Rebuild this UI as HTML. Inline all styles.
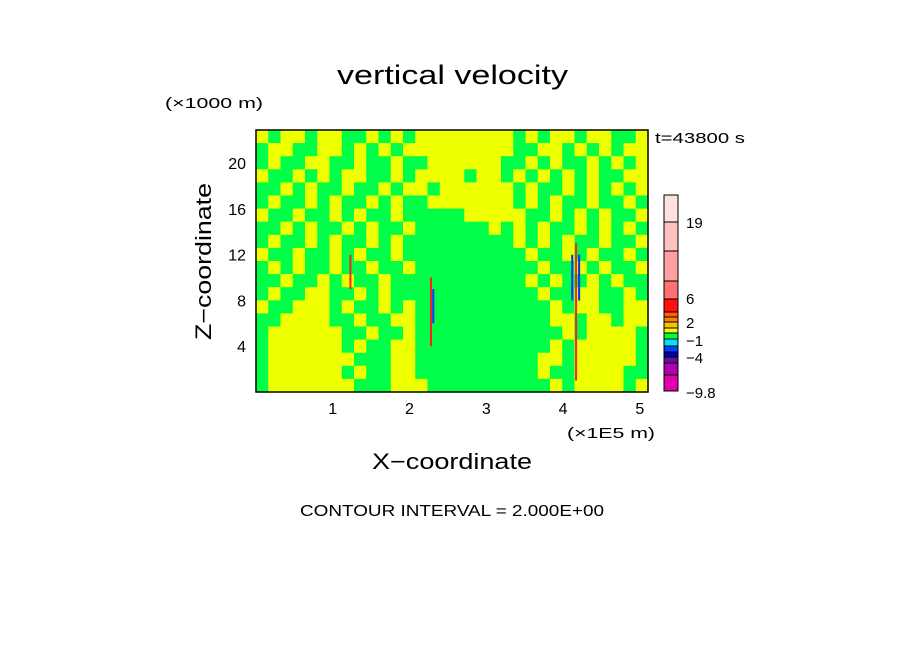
<!DOCTYPE html>
<html><head><meta charset="utf-8"><style>
body{margin:0;background:#fff;width:904px;height:654px;overflow:hidden}
text{font-family:"Liberation Sans","DejaVu Sans",sans-serif;fill:#000}
</style></head><body>
<svg id="chart" width="904" height="654" xmlns="http://www.w3.org/2000/svg">
<text x="337" y="84" font-size="27" textLength="231" lengthAdjust="spacingAndGlyphs">vertical velocity</text>
<text x="165" y="108" font-size="15" textLength="98" lengthAdjust="spacingAndGlyphs">(×1000 m)</text>
<text x="655" y="143" font-size="15" textLength="90" lengthAdjust="spacingAndGlyphs">t=43800 s</text>
<g id="field"></g>
<rect x="256" y="130" width="392" height="262" fill="none" stroke="#000" stroke-width="1.5"/>
<g id="axes"></g>
<text transform="translate(211,340) rotate(-90)" font-size="22" textLength="157" lengthAdjust="spacingAndGlyphs">Z−coordinate</text>
<text x="567" y="438" font-size="15" textLength="88" lengthAdjust="spacingAndGlyphs">(×1E5 m)</text>
<text x="372" y="469" font-size="22" textLength="160" lengthAdjust="spacingAndGlyphs">X−coordinate</text>
<text x="300" y="516" font-size="16" textLength="304" lengthAdjust="spacingAndGlyphs">CONTOUR INTERVAL = 2.000E+00</text>
<g id="cbar"></g>
</svg>
<script>
const rows = [
"YGYYGYYGGYGYGYYYYYYYYGYGYYGYYGGY",
"GYYGGYYGYGYGYYYYYYYYYGGYYGYGYGYY",
"GYGGYYGGYGGYGGYYYYYYGGYGYGGYGYGY",
"YGGYGYGYYGGYGYYYYGYYGYGYGYGYGGYY",
"GGYGYGGYGGYGYYGYYYYYYGYGGYGYGYGY",
"GYGGYGYGGYGYGGYYYYYYYGYGYGGYGGYG",
"YGGYGGYGYGGYGGGGGYYYYYGGYGYGYGGY",
"GGYGYGGYGYGGYGGGGGGYGYGYGGYGYGYG",
"GYGGYGYGGYGYGGGGGGGGGYGYGYGGYGGY",
"YGGYGGYGYGGYGGGGGGGGGGYGGYGYGGYG",
"GYGYGGYGGYGGYGGGGGGGGGGYGGYGYGGY",
"GGYGGYGYGGYGGGGGGGGGGGYGYGGYGYGG",
"GYGGYYGGYGYGGGGGGGGGGGGYGGYYGGYG",
"YGGYYYGYGGYGYGGGGGGGGGGGYGYYGGYY",
"GGYYYYGGYGGYYGGGGGGGGGGGYYGYYGYY",
"GYYYYYYGGYGGYGGGGGGGGGGGGYGYYYYG",
"GYYYYYYGYGGYYGGGGGGGGGGGYGYYYYYG",
"GYYYYYYYGGGYYGGGGGGGGGGYYGYYYYYG",
"GYYYYYYGYGGYYGGGGGGGGGGYGGYYYYGG",
"GYYYYYYYGGGYYYGGGGGGGGGGYGYYYYGY"];
// spikes: x (1E5 m), zBottom, zTop (km), color
const spikeX = [1.23, 2.28, 2.31, 4.12, 4.17, 4.21];
const spikeZ0 = [9, 4, 6, 8, 1, 8];
const spikeZ1 = [12, 10, 9, 12, 13, 12];
const spikeC = ["#ff2020", "#ff2020", "#0030ff", "#0030ff", "#ff2020", "#0030ff"];
const xTicks = [1, 2, 3, 4, 5];
const zTicks = [4, 8, 12, 16, 20];
const cbColors = ["#e000b0","#b000b0","#6010a0","#0000b0","#0040ff","#00e0ff","#00ff40","#f0ff00","#ffc000","#ff8000","#ff6000","#ff1010","#ff7070","#ffa0a0","#ffc0c0","#ffe0e0"];
const cbLabels = [19, 6, 2, -1, -4, -9.8];
const cbLabelY = [222, 298, 322, 340, 357, 392];

const NS = "http://www.w3.org/2000/svg";
const X0 = 256, X1 = 648, Y0 = 392, Y1 = 130, XMAX = 5.107, ZMAX = 22.9;
const sx = v => X0 + v / XMAX * (X1 - X0);
const sz = v => Y0 - v / ZMAX * (Y0 - Y1);
function mk(tag, attrs, parent) { const e = document.createElementNS(NS, tag); for (const k in attrs) e.setAttribute(k, attrs[k]); parent.appendChild(e); return e; }
const field = document.getElementById("field");
const nr = rows.length, nc = rows[0].length;
const cw = (X1 - X0) / nc, ch = (Y0 - Y1) / nr;
rows.forEach((r, i) => { [...r].forEach((c, j) => {
  const e = mk("rect", {x: X0 + j * cw, y: Y1 + i * ch, width: cw + 0.5, height: ch + 0.5, fill: c === "Y" ? "#eeff00" : "#00ff48"}, field);
  
  
}); });
spikeX.forEach((x, i) => {
  const e = mk("rect", {x: sx(x) - 1, y: sz(spikeZ1[i]), width: 2, height: sz(spikeZ0[i]) - sz(spikeZ1[i]), fill: spikeC[i]}, field);
  
  
});
const axes = document.getElementById("axes");
xTicks.forEach(t => {
  const e = mk("text", {x: sx(t), y: 414, "font-size": 16, "text-anchor": "middle"}, axes); e.textContent = t;
  
  
});
zTicks.forEach(t => {
  const e = mk("text", {x: 246, y: sz(t) + 6, "font-size": 16, "text-anchor": "end"}, axes); e.textContent = t;
  
  
});
const cb = document.getElementById("cbar");
const cbEdges = [391,375,363,357,352,346,339,333,328,322,317,312,299,281,251,222,195];
cbColors.forEach((c, i) => {
  const e = mk("rect", {x: 664, y: cbEdges[i + 1], width: 14, height: cbEdges[i] - cbEdges[i + 1], fill: c, stroke: "#000", "stroke-width": 1}, cb);
  
  
});
cbLabels.forEach((l, i) => {
  const e = mk("text", {x: 686, y: cbLabelY[i] + 6, "font-size": 15}, cb); e.textContent = String(l).replace("-", "−");
  
  
});
</script>
</body></html>
